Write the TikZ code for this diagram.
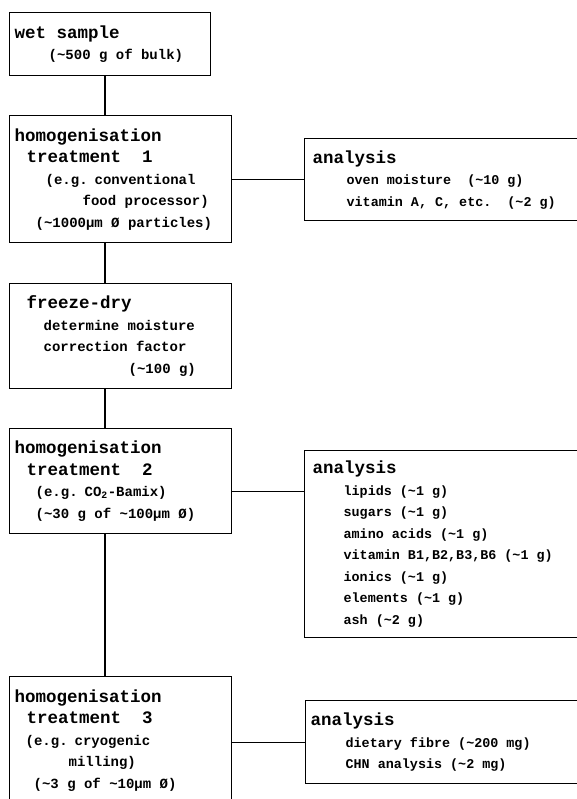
\documentclass[tikz,border=0pt]{standalone}
\usepackage{fontspec}
\setmainfont{Liberation Mono}
\newcommand\headtt{\fontsize{17.5}{21.5}\selectfont\spaceskip=0.6em\relax}
\newcommand\subtt{\fontsize{14}{21.5}\selectfont\spaceskip=0.6em\relax}
\newcommand\itemtt{\fontsize{13.4}{21.5}\selectfont\spaceskip=0.6em\relax}
\newcommand\ind[1]{\hspace*{#1pt}}
\newcommand\apx{\textasciitilde}
\begin{document}
\begin{tikzpicture}[x=1pt,y=-1pt,line width=1.3pt,
    procbox/.style={draw,anchor=north west,inner xsep=5pt,inner ysep=0pt,align=left,
        font=\fontsize{14}{21.5}\selectfont\bfseries},
    anbox/.style={procbox,text width=271pt}]
        \useasboundingbox (0,0) rectangle (577,799);
        \coordinate (spine) at (105,0);
        % left column
        \node[procbox,text width=191pt,minimum height=63pt] (wet) at (9,12)
            {\headtt wet sample\\\subtt\ind{34}(\apx500 g of bulk)};
        \node[procbox,text width=212pt,minimum height=127pt] (hom1) at (9,115)
            {\headtt homogenisation\\\ind{12}treatment~~1\\
             \subtt\ind{31}(e.g. conventional\\\ind{68}food processor)\\
             \ind{21}(\apx1000µm Ø particles)};
        \node[procbox,text width=212pt,minimum height=105pt] (dry) at (9,283)
            {\headtt\ind{12}freeze-dry\\
             \subtt\ind{29}determine moisture\\\ind{29}correction factor\\
             \ind{114}(\apx100 g)};
        \node[procbox,text width=212pt,minimum height=105pt] (hom2) at (9,428)
            {\headtt homogenisation\\\ind{12}treatment~~2\\
             \subtt\ind{21}(e.g. CO\textsubscript{2}-Bamix)\\
             \ind{21}(\apx30 g of \apx100µm Ø)};
        \node[procbox,text width=212pt,minimum height=127pt] (hom3) at (9,676)
            {\headtt homogenisation\\\ind{12}treatment~~3\\
             \subtt\ind{11}(e.g. cryogenic\\\ind{54}milling)\\
             \ind{19}(\apx3 g of \apx10µm Ø)};
        % right column
        \node[anbox,minimum height=82pt] (an1) at (304,138)
            {\headtt\ind{3}analysis\\
             \itemtt\ind{37}oven moisture~~(\apx10 g)\\
             \ind{37}vitamin A, C, etc.~~(\apx2 g)};
        \node[anbox,minimum height=187pt] (an2) at (304,450)
            {\headtt\ind{3}analysis\\
             \itemtt\ind{34}lipids (\apx1 g)\\\ind{34}sugars (\apx1 g)\\
             \ind{34}amino acids (\apx1 g)\\\ind{34}vitamin B1,B2,B3,B6 (\apx1 g)\\
             \ind{34}ionics (\apx1 g)\\\ind{34}elements (\apx1 g)\\
             \ind{34}ash (\apx2 g)};
        \node[anbox,minimum height=83pt] (an3) at (305,700)
            {\headtt analysis\\
             \itemtt\ind{35}dietary fibre (\apx200 mg)\\
             \ind{35}CHN analysis (\apx2 mg)};
        % connectors
        \draw (spine |- wet.south) -- (spine |- hom1.north);
        \draw (spine |- hom1.south) -- (spine |- dry.north);
        \draw (spine |- dry.south) -- (spine |- hom2.north);
        \draw (spine |- hom2.south) -- (spine |- hom3.north);
        \draw (hom1.east |- an1.west) -- (an1.west);
        \draw ([yshift=-10.5pt]hom2.east) coordinate (h2) -- (h2 -| an2.west);
        \draw (hom3.east |- an3.west) -- (an3.west);
    \end{tikzpicture}
\end{document}
